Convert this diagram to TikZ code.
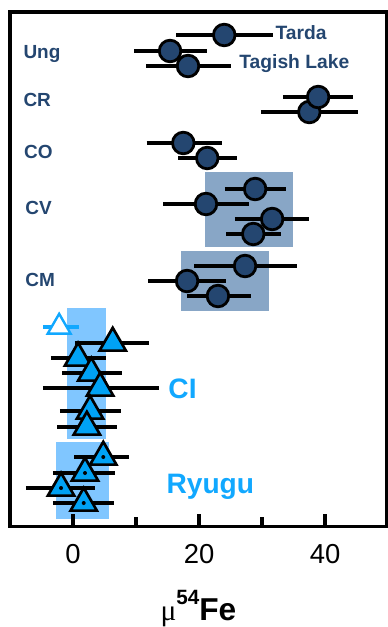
\documentclass[tikz,border=0pt]{standalone}
\usepackage{fontspec}
\setmainfont{Liberation Sans}
\newfontfamily\greekfont{Liberation Serif}
\usetikzlibrary{shapes.geometric}
\definecolor{navy}{RGB}{36,70,112}
\definecolor{steel}{RGB}{136,166,198}
\definecolor{skyfill}{RGB}{128,198,255}
\definecolor{cifill}{RGB}{0,162,245}
\definecolor{citext}{RGB}{17,168,255}
\begin{document}
\begin{tikzpicture}[x=0.1575cm, y=-0.025cm,
        bar/.style={line width=2.4pt},
        dot/.style={circle, draw=black, fill=navy, line width=2pt, minimum size=0.54cm, inner sep=0pt},
        tri/.style={regular polygon, regular polygon sides=3, draw=black, fill=cifill, line width=1.9pt, minimum size=0.76cm, inner sep=0pt},
        grp/.style={navy, font=\bfseries\fontsize{13.5}{16}\selectfont, anchor=base west, inner sep=0pt},
        tag/.style={navy, font=\bfseries\fontsize{13.7}{16}\selectfont, anchor=base west, inner sep=0pt},
        sample/.style={citext, font=\bfseries\fontsize{20}{24}\selectfont, anchor=base west, inner sep=0pt}]
        \useasboundingbox (-11.587,0) rectangle (49.84,627);
        % shaded ranges
        \fill[steel] (21.0,172) rectangle (34.9,247);
        \fill[steel] (17.1,251) rectangle (31.1,311);
        \fill[skyfill] (-1.0,308) rectangle (5.2,439);
        \fill[skyfill] (-2.7,442) rectangle (5.7,519);
        % chondrites
        \foreach \c/\lo/\hi/\y in {24.0/16.35/31.75/35, 15.4/9.7/21.3/51, 18.25/11.6/25.1/66,
                37.5/29.8/45.2/112, 38.9/33.3/44.4/97,
                17.5/11.7/23.7/143, 21.3/16.7/26.0/158,
                28.9/24.1/33.8/189, 21.1/14.3/27.9/204, 31.6/25.7/37.5/219, 28.6/24.3/33.0/234,
                27.3/19.2/35.6/266, 18.1/11.9/24.3/281, 23.0/18.1/28.3/296} {
            \draw[bar] (\lo,\y) -- (\hi,\y);
            \node[dot] (c\y) at (\c,\y) {};
        }
        % CI
        \draw[bar, citext] (-4.8,327) -- (1.0,327);
        \node[tri, draw=citext, fill=white, line width=1.7pt, minimum size=0.66cm] (ci0) at (-2.2,327) {};
        \foreach \c/\lo/\hi/\y in {6.3/0.3/12.1/343, 0.8/-3.5/5.2/358, 2.9/-1.7/7.8/373,
                4.3/-4.8/13.7/388, 2.7/-2.1/7.6/411, 2.2/-2.5/7.0/427} {
            \draw[bar] (\lo,\y) -- (\hi,\y);
            \node[tri] (ci\y) at (\c,\y) {};
        }
        % Ryugu
        \foreach \c/\lo/\hi/\y in {4.8/0.2/8.9/457, 1.9/-3.2/6.7/473, -1.9/-7.5/3.5/488, 1.7/-3.2/6.5/503} {
            \draw[bar] (\lo,\y) -- (\hi,\y);
            \node[tri] (ry\y) at (\c,\y) {};
            \fill (ry\y.center) circle (0.05cm);
        }
        % frame and ticks
        \draw[line width=2.3pt] (-10,12) rectangle (49.7,526.5);
        \foreach \t in {0,20,40} {
            \draw[line width=2.3pt] (\t,526.5) -- (\t,513.5);
            \node[anchor=base, font=\fontsize{19.5}{24}\selectfont] (t\t) at (\t,563) {\t};
        }
        \foreach \t in {10,30}
            \draw[line width=2.3pt] (\t,526.5) -- (\t,516.5);
        \node[anchor=base] (xlabel) at (19.9,620) {{\greekfont\fontsize{21}{24}\selectfont μ}\raisebox{10.7pt}{\bfseries\fontsize{14.7}{16}\selectfont 54}{\bfseries\fontsize{22.5}{26}\selectfont Fe}};
        % labels
        \node[grp] (ung) at (-7.9,58) {Ung};
        \node[grp] (cr) at (-7.9,106) {CR};
        \node[grp] (co) at (-7.8,158) {CO};
        \node[grp] (cv) at (-7.6,214) {CV};
        \node[grp] (cm) at (-7.6,286) {CM};
        \node[tag] (tarda) at (32.1,39) {Tarda};
        \node[tag] (tagish) at (26.35,68) {Tagish Lake};
        \node[sample] (ci) at (15.1,398) {CI};
        \node[sample] (ryugu) at (14.8,493) {Ryugu};
\end{tikzpicture}
\end{document}
